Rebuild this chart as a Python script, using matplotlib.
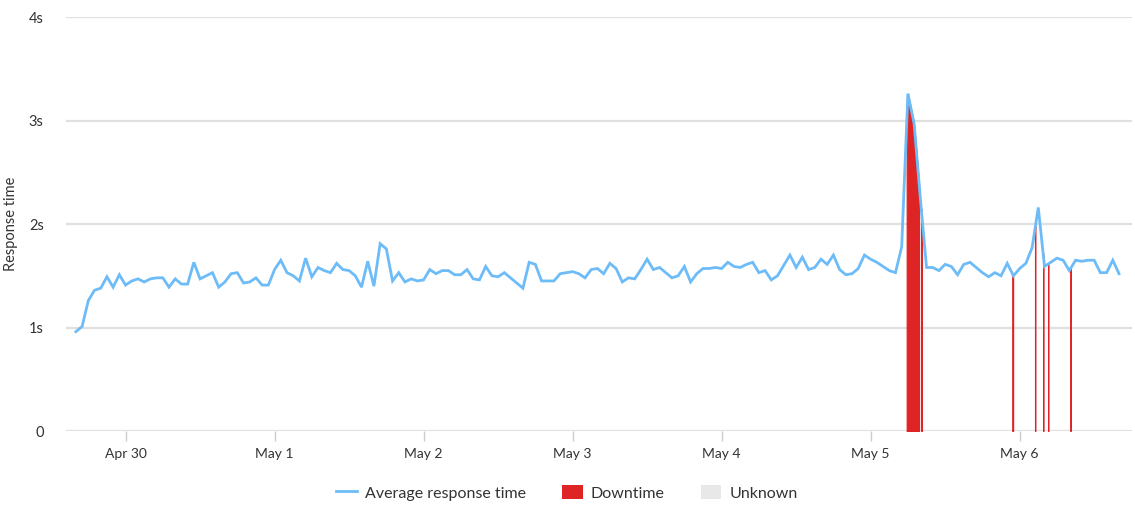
import matplotlib

matplotlib.use("Agg")
import matplotlib.dates as mdates
import matplotlib.pyplot as plt
import numpy as np
import pandas as pd
from matplotlib.lines import Line2D
from matplotlib.patches import Patch

plt.rcParams["font.family"] = ["Lato", "DejaVu Sans"]

# hourly average response time (seconds), starting Apr 29 16:00
start = "2019-04-29 16:00"
response_time = [
    0.96, 1.01, 1.26, 1.36, 1.38, 1.49, 1.39, 1.51, 1.41, 1.45,
    1.47, 1.44, 1.47, 1.48, 1.48, 1.39, 1.47, 1.42, 1.42, 1.63,
    1.47, 1.50, 1.53, 1.39, 1.44, 1.52, 1.53, 1.43, 1.44, 1.48,
    1.41, 1.41, 1.56, 1.65, 1.53, 1.50, 1.45, 1.67, 1.49, 1.58,
    1.55, 1.53, 1.62, 1.56, 1.55, 1.50, 1.39, 1.64, 1.40, 1.81,
    1.76, 1.45, 1.53, 1.44, 1.47, 1.45, 1.46, 1.56, 1.52, 1.55,
    1.55, 1.51, 1.51, 1.56, 1.47, 1.46, 1.59, 1.50, 1.49, 1.53,
    1.48, 1.43, 1.38, 1.63, 1.61, 1.45, 1.45, 1.45, 1.52, 1.53,
    1.54, 1.52, 1.48, 1.56, 1.57, 1.52, 1.62, 1.57, 1.44, 1.48,
    1.47, 1.56, 1.66, 1.56, 1.58, 1.53, 1.48, 1.50, 1.59, 1.44,
    1.52, 1.57, 1.57, 1.58, 1.57, 1.63, 1.59, 1.58, 1.61, 1.63,
    1.53, 1.55, 1.46, 1.50, 1.60, 1.70, 1.58, 1.68, 1.56, 1.58,
    1.66, 1.61, 1.70, 1.56, 1.51, 1.52, 1.57, 1.70, 1.66, 1.63,
    1.59, 1.55, 1.53, 1.78, 3.26, 2.97, 2.25, 1.58, 1.58, 1.55,
    1.61, 1.59, 1.51, 1.61, 1.63, 1.58, 1.53, 1.49, 1.53, 1.50,
    1.62, 1.50, 1.57, 1.62, 1.77, 2.16, 1.59, 1.63, 1.67, 1.65,
    1.55, 1.65, 1.64, 1.65, 1.65, 1.53, 1.53, 1.65, 1.52,
]
# downtime windows, in hours after start
downtime = [
    (133.8, 135.8), (136.15, 136.25), (150.8, 150.95), (154.47, 154.53),
    (155.77, 155.83), (156.57, 156.63), (160.17, 160.23),
]
y_ticks = [0, 1, 2, 3, 4]
y_labels = ["0", "1s", "2s", "3s", "4s"]

LINE = "#6dbcf8"
RED = "#de2424"
GRID = "#e0e0e0"
TEXT = "#333333"

t0 = pd.Timestamp(start)
hours = np.arange(len(response_time))
times = t0 + pd.to_timedelta(hours, unit="h")
values = np.array(response_time)

fig = plt.figure(figsize=(11.35, 5.05), dpi=100)
ax = fig.add_axes([0.0581, 0.1465, 0.9393, 0.8198])

for lo, hi in downtime:
    hh = np.linspace(lo, hi, 20)
    vv = np.interp(hh, hours, values)
    tt = mdates.date2num(t0 + pd.to_timedelta(hh, unit="h"))
    ax.fill_between(tt, 0, vv, color=RED, linewidth=0.8, zorder=2)

ax.plot(times, values, color=LINE, linewidth=2.0, zorder=3, solid_joinstyle="miter")

ax.set_ylim(0, 4)
ax.set_xlim(t0 - pd.Timedelta(hours=1.6), t0 + pd.Timedelta(hours=170.1))
ax.set_yticks(y_ticks)
ax.set_yticklabels(y_labels)
ax.yaxis.grid(True, color=GRID, linewidth=1.6)
ax.set_axisbelow(True)
for s in ax.spines.values():
    s.set_visible(False)

ax.xaxis.set_major_locator(mdates.DayLocator())
ax.xaxis.set_major_formatter(mdates.DateFormatter("%b %-d"))
ax.tick_params(axis="x", length=7, width=1, color="#cccccc", labelcolor=TEXT,
               labelsize=10, pad=5)
ax.tick_params(axis="y", length=0, labelcolor=TEXT, labelsize=10.5, pad=16)
ax.set_ylabel("Response time", fontsize=10.5, color=TEXT)
ax.yaxis.set_label_coords(-0.045, 0.5)

handles = [
    Line2D([0], [0], color=LINE, linewidth=2.0),
    Patch(facecolor=RED, edgecolor="none"),
    Patch(facecolor="#e8e8e8", edgecolor="none"),
]
fig.legend(handles, ["Average response time", "Downtime", "Unknown"],
           loc="center", bbox_to_anchor=(0.4996, 0.024), ncol=3, frameon=False,
           fontsize=11.5, handlelength=1.3, handleheight=1.0, handletextpad=0.5,
           columnspacing=2.25, labelcolor=TEXT)

fig.savefig("out.png", dpi=100)
